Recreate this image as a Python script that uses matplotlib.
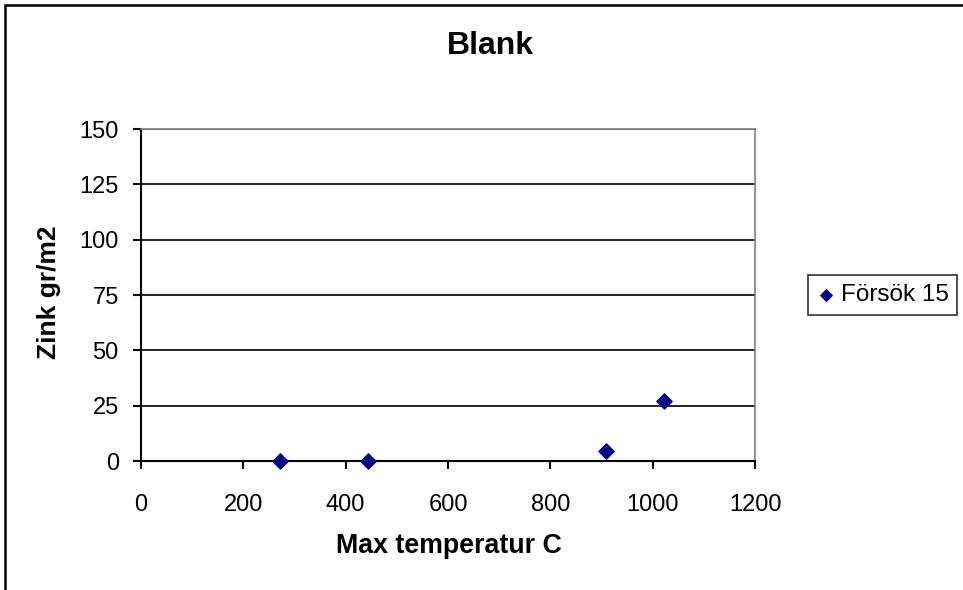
import matplotlib
matplotlib.use("Agg")
import matplotlib.pyplot as plt
from matplotlib.patches import Rectangle

x_temp = [272, 443, 909, 1023]
y_zink = [0, 0, 4.5, 27]
series_name = "Försök 15"
title = "Blank"
xlabel = "Max temperatur C"
ylabel = "Zink gr/m2"
xticks = [0, 200, 400, 600, 800, 1000, 1200]
yticks = [0, 25, 50, 75, 100, 125, 150]

plt.rcParams['font.family'] = ['Liberation Sans', 'DejaVu Sans']

fig = plt.figure(figsize=(9.63, 5.9), dpi=100)
ax = fig.add_axes([141/963, 1-461/590, (755-141)/963, (461-129)/590])

ax.scatter(x_temp, y_zink, marker='D', s=60, color='#000080', zorder=5,
           clip_on=False, label=series_name)

ax.set_xlim(0, 1200)
ax.set_ylim(0, 150)
ax.set_xticks(xticks)
ax.set_yticks(yticks)
ax.tick_params(axis='both', direction='out', length=6, width=1.5, labelsize=17, colors='black')
ax.tick_params(axis='x', pad=18)
ax.tick_params(axis='y', pad=10)
ax.yaxis.grid(True, color='black', linewidth=1.2)
ax.set_axisbelow(True)
for s in ['top', 'right']:
    ax.spines[s].set_color('#808080')
    ax.spines[s].set_linewidth(1.2)
for s in ['left', 'bottom']:
    ax.spines[s].set_color('black')
    ax.spines[s].set_linewidth(1.5)

fig.text(449/963, 1-546/590, xlabel, fontsize=19.3, fontweight='bold', ha='center', va='center')
fig.text(49/963, 1-292/590, ylabel, fontsize=19, fontweight='bold', ha='center', va='center', rotation=90)
fig.text(490/963, 1-46/590, title, fontsize=23, fontweight='bold', ha='center', va='center')

leg = ax.legend(loc='center left', bbox_to_anchor=(808/963, 1-295/590), bbox_transform=fig.transFigure,
                frameon=True, fancybox=False, fontsize=17.5, handletextpad=0.2, borderpad=0.35,
                handlelength=0.8, markerscale=0.75, borderaxespad=0)
leg.get_frame().set_edgecolor('black')
leg.get_frame().set_linewidth(1.2)

fig.patches.append(Rectangle((5/963, -10/590), 970/963, 595/590, transform=fig.transFigure,
                             fill=False, edgecolor='black', linewidth=1.8))

fig.savefig("out.png", dpi=100)
